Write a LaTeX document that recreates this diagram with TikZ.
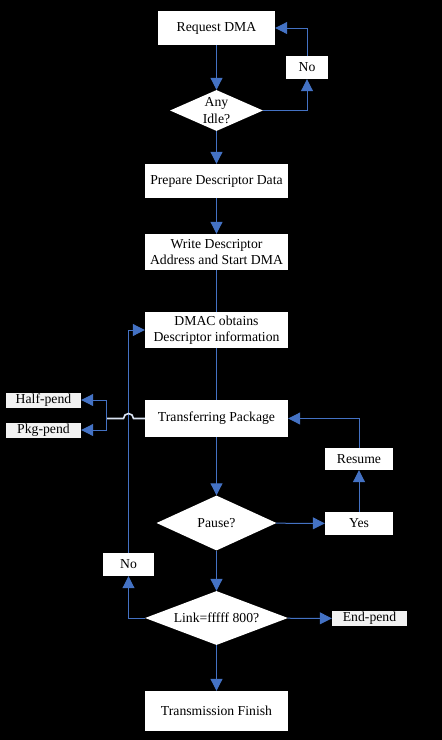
\documentclass[tikz,border=0pt]{standalone}
\usepackage{fontspec}
\setmainfont{Liberation Serif}
\usetikzlibrary{arrows.meta,shapes.geometric}
\definecolor{blueline}{RGB}{68,114,196}
\definecolor{lightline}{RGB}{218,227,243}
\definecolor{pendfill}{RGB}{242,242,242}
\tikzset{
  txt/.style={font=\fontsize{13.7}{16.5}\selectfont, text=black, align=center},
  box/.style={txt, fill=white, draw=none, inner sep=0pt},
  pend/.style={txt, fill=pendfill, draw=none, inner sep=0pt, minimum width=75pt, minimum height=15pt},
  dia/.style={diamond, fill=white, draw=none, inner sep=0pt},
  arr/.style={draw=blueline, line width=1pt, -{Triangle[width=12pt,length=12pt,fill=blueline]}},
  ln/.style={draw=blueline, line width=1pt},
  lightln/.style={draw=lightline, line width=1.6pt},
}
\begin{document}
\begin{tikzpicture}[x=1pt,y=-1pt]
\path[fill=black] (0,0) rectangle (442,740);
\useasboundingbox (0,0) rectangle (442,740);

\node[box, minimum width=117pt, minimum height=34pt] (req) at (216.5,28) {Request DMA};
\node[box, minimum width=42pt, minimum height=23pt] (no1) at (307,67.5) {No};
\node[dia, minimum width=93pt, minimum height=41pt,
      label={[txt]center:Any\\Idle?}] (idle) at (216.5,110.5) {};
\node[box, minimum width=143pt, minimum height=34pt] (prep) at (216.5,181) {Prepare Descriptor Data};
\node[box, minimum width=143pt, minimum height=36pt] (write) at (216.5,252) {Write Descriptor\\Address and Start DMA};
\node[box, minimum width=143pt, minimum height=36pt] (dmac) at (216.5,330) {DMAC obtains\\Descriptor information};
\node[box, minimum width=143pt, minimum height=37pt] (trans) at (216.5,418.5) {Transferring Package};
\node[pend] (half) at (43.5,400) {Half-pend};
\node[pend] (pkg) at (43.5,430) {Pkg-pend};
\node[box, minimum width=68pt, minimum height=22pt] (resume) at (359,459) {Resume};
\node[dia, minimum width=120pt, minimum height=55pt,
      label={[txt]center:Pause?}] (pause) at (216.5,523) {};
\node[box, minimum width=68pt, minimum height=23pt] (yes) at (359,523.5) {Yes};
\node[box, minimum width=51pt, minimum height=23pt] (no2) at (128.5,564.5) {No};
\node[dia, minimum width=143pt, minimum height=54pt,
      label={[txt]center:Link=fffff 800?}] (link) at (216.5,618) {};
\node[pend] (endp) at (369.5,618.5) {End-pend};
\node[box, minimum width=143pt, minimum height=40pt] (fin) at (216.5,711) {Transmission Finish};

\coordinate (split) at (106,418.5);
\coordinate (hopR) at (133.5,418.5);

\draw[arr] (req) -- (idle);
\draw[arr] (idle.east) -| (no1);
\draw[arr] (no1) |- (req);
\draw[arr] (idle) -- (prep);
\draw[arr] (prep) -- (write);
\draw[ln] (write) -- (dmac);
\draw[ln] (dmac) -- (trans);
\draw[arr] (trans) -- (pause);
\draw[arr] (pause) -- (yes);
\draw[arr] (yes) -- (resume);
\draw[arr] (resume) |- (trans);
\draw[arr] (pause) -- (link);
\draw[arr] (link) -- (fin);
\draw[arr] (link) -- (endp);
\draw[arr] (link.west) -| (no2);
\draw[arr] (no2) |- (dmac);
\draw[lightln] (trans.west) -- (hopR) arc[start angle=0,end angle=180,radius=5pt] -- (split);
\draw[arr] (split) |- (half);
\draw[arr] (split) |- (pkg);
\end{tikzpicture}
\end{document}
